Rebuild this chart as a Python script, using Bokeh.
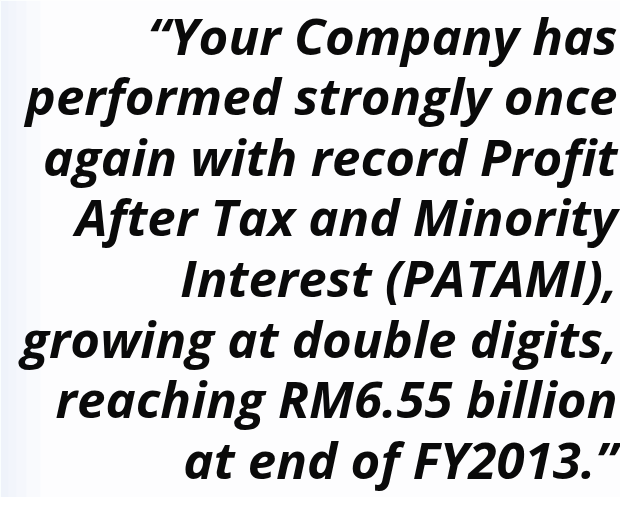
from bokeh.plotting import figure
from bokeh.models import Range1d, ColumnDataSource
from bokeh.core.properties import value
from bokeh.embed import file_html
from bokeh.resources import INLINE

lines = [
    "\u201cYour Company has",
    "performed strongly once",
    "again with record Profit",
    "After Tax and Minority",
    "Interest (PATAMI),",
    "growing at double digits,",
    "reaching RM6.55 billion",
    "at end of FY2013.\u201d",
]

W, H = 620, 497
p = figure(width=W, height=H, output_backend="svg", toolbar_location=None,
           x_range=Range1d(0, W), y_range=Range1d(H, 0),
           min_border=0, outline_line_color=None,
           background_fill_color="#fdfdfe", border_fill_color="#fdfdfe")
p.axis.visible = False
p.grid.visible = False

# faint bluish tint along the left edge
p.quad(left=[0, 0, 0, 0], right=[8, 16, 26, 40], bottom=[H] * 4, top=[0] * 4,
       fill_color="#dfe7f3", fill_alpha=0.12, line_color=None)

idx = list(range(len(lines)))
src = ColumnDataSource(dict(x=[617] * len(lines), y=[34 + 60.6 * i for i in idx], t=lines))
p.text(x="x", y="y", text="t", source=src, text_align="right", text_baseline="alphabetic",
       text_font=value("Open Sans"), text_font_style="bold italic",
       text_font_size="51px", text_color="#0a0a0a")

open("out.html", "w").write(file_html(p, INLINE))
